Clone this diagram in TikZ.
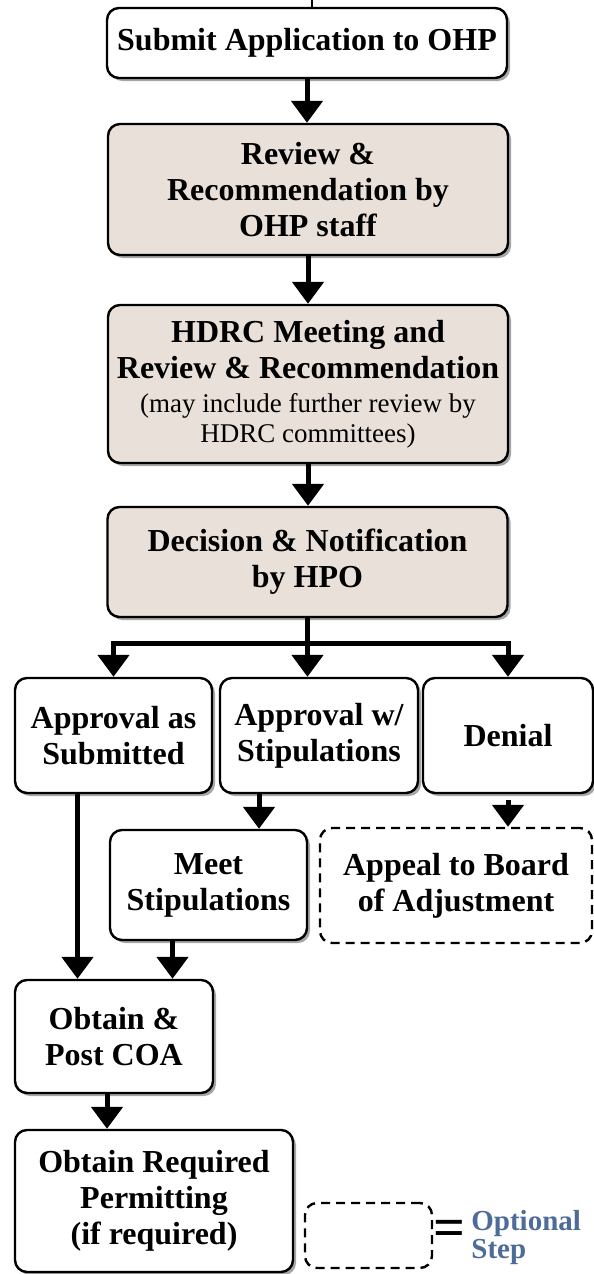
\documentclass[tikz,border=0pt]{standalone}
\usepackage{fontspec}
\setmainfont{Liberation Serif}
\usetikzlibrary{arrows.meta,shadows}
\definecolor{boxtan}{RGB}{233,225,217}
\definecolor{optblue}{RGB}{78,108,152}
\newcommand{\subnote}[1]{{\fontsize{13.5}{15}\selectfont\mdseries #1}}

\begin{document}
\begin{tikzpicture}[x=0.5pt,y=-0.5pt,
    stepbox/.style={draw=black, line width=1.2pt, rounded corners=6pt, fill=white,
        align=center, inner sep=2pt, font=\fontsize{16}{18}\selectfont\bfseries,
        drop shadow={shadow xshift=1.5pt, shadow yshift=-1.5pt, opacity=.7}},
    tanbox/.style={stepbox, fill=boxtan},
    optbox/.style={draw=black, line width=1.2pt, dash pattern=on 4.5pt off 3pt,
        rounded corners=6pt, fill=white, align=center, inner sep=2pt,
        font=\fontsize{16}{18}\selectfont\bfseries},
    line/.style={line width=2.5pt},
    arrow/.style={line width=2.5pt, -{Triangle[width=15.5pt,length=11pt]}}]
    \useasboundingbox (0,0) rectangle (594,1274);

    % main column
    \node[stepbox, minimum width=200pt, minimum height=35pt] (submit) at (307,43) {Submit Application to OHP};
    \node[tanbox, minimum width=200pt, minimum height=65.5pt] (review) at (308,189.5) {Review \&\\Recommendation by\\OHP staff};
    \node[tanbox, minimum width=200pt, minimum height=79pt] (hdrc) at (308,384) {HDRC Meeting and\\Review \& Recommendation\\[-1pt]\subnote{(may include further review by}\\[-3pt]\subnote{HDRC committees)}};
    \node[tanbox, minimum width=200pt, minimum height=55pt] (decision) at (307.5,562) {Decision \& Notification\\by HPO};

    % outcomes
    \node[stepbox, minimum width=98.5pt, minimum height=57.5pt] (approved) at (113.5,735.5) {Approval as\\Submitted};
    \node[stepbox, minimum width=99pt, minimum height=57.5pt] (stipul) at (319,735.5) {Approval w/\\Stipulations};
    \node[stepbox, minimum width=85pt, minimum height=57.5pt] (denial) at (508,735.5) {Denial};
    \node[stepbox, minimum width=98.5pt, minimum height=55pt] (meet) at (208.5,885) {Meet\\Stipulations};
    \node[optbox, minimum width=136pt, minimum height=57.5pt] (appeal) at (456,885.5) {Appeal to Board\\of Adjustment};
    \node[stepbox, minimum width=99pt, minimum height=56.5pt] (coa) at (114,1036.5) {Obtain \&\\Post COA};
    \node[stepbox, minimum width=139pt, minimum height=71pt] (permit) at (154,1201) {Obtain Required\\Permitting\\(if required)};

    % legend
    \node[optbox, minimum width=63.5pt, minimum height=32.5pt] (legend) at (368.5,1235.5) {};
    \node[font=\fontsize{28}{28}\selectfont\bfseries, inner sep=0pt] (equals) at (449,1233) {=};
    \node[anchor=west, align=left, inner sep=0pt, text=optblue,
        font=\fontsize{14.5}{14}\selectfont\bfseries] (optional) at (471,1238) {Optional\\Step};

    % connectors
    \coordinate (feed) at (312,0);
    \draw[line width=1pt] (feed) -- (feed |- submit.north);
    \draw[arrow] (submit.south) -- (submit.south |- review.north);
    \draw[arrow] (review.south) -- (review.south |- hdrc.north);
    \draw[arrow] (hdrc.south) -- (hdrc.south |- decision.north);
    \path (decision.south) ++(0,25) coordinate (split);
    \draw[line] (decision.south) -- (split);
    \draw[arrow] (split) -| (approved.north);
    \draw[arrow] (split) -| (denial.north);
    \draw[arrow] (split) -- (split |- stipul.north);
    \draw[arrow] ([xshift=-30pt]stipul.south) -- ([xshift=-30pt]stipul.south |- meet.north);
    \draw[arrow, shorten <=3pt] (denial.south) -- (denial.south |- appeal.north);
    \draw[arrow] ([xshift=-18pt]approved.south) -- ([xshift=-18pt]approved.south |- coa.north);
    \draw[arrow] ([xshift=-18pt]meet.south) -- ([xshift=-18pt]meet.south |- coa.north);
    \draw[arrow] ([xshift=-3.5pt]coa.south) -- ([xshift=-3.5pt]coa.south |- permit.north);
\end{tikzpicture}
\end{document}
